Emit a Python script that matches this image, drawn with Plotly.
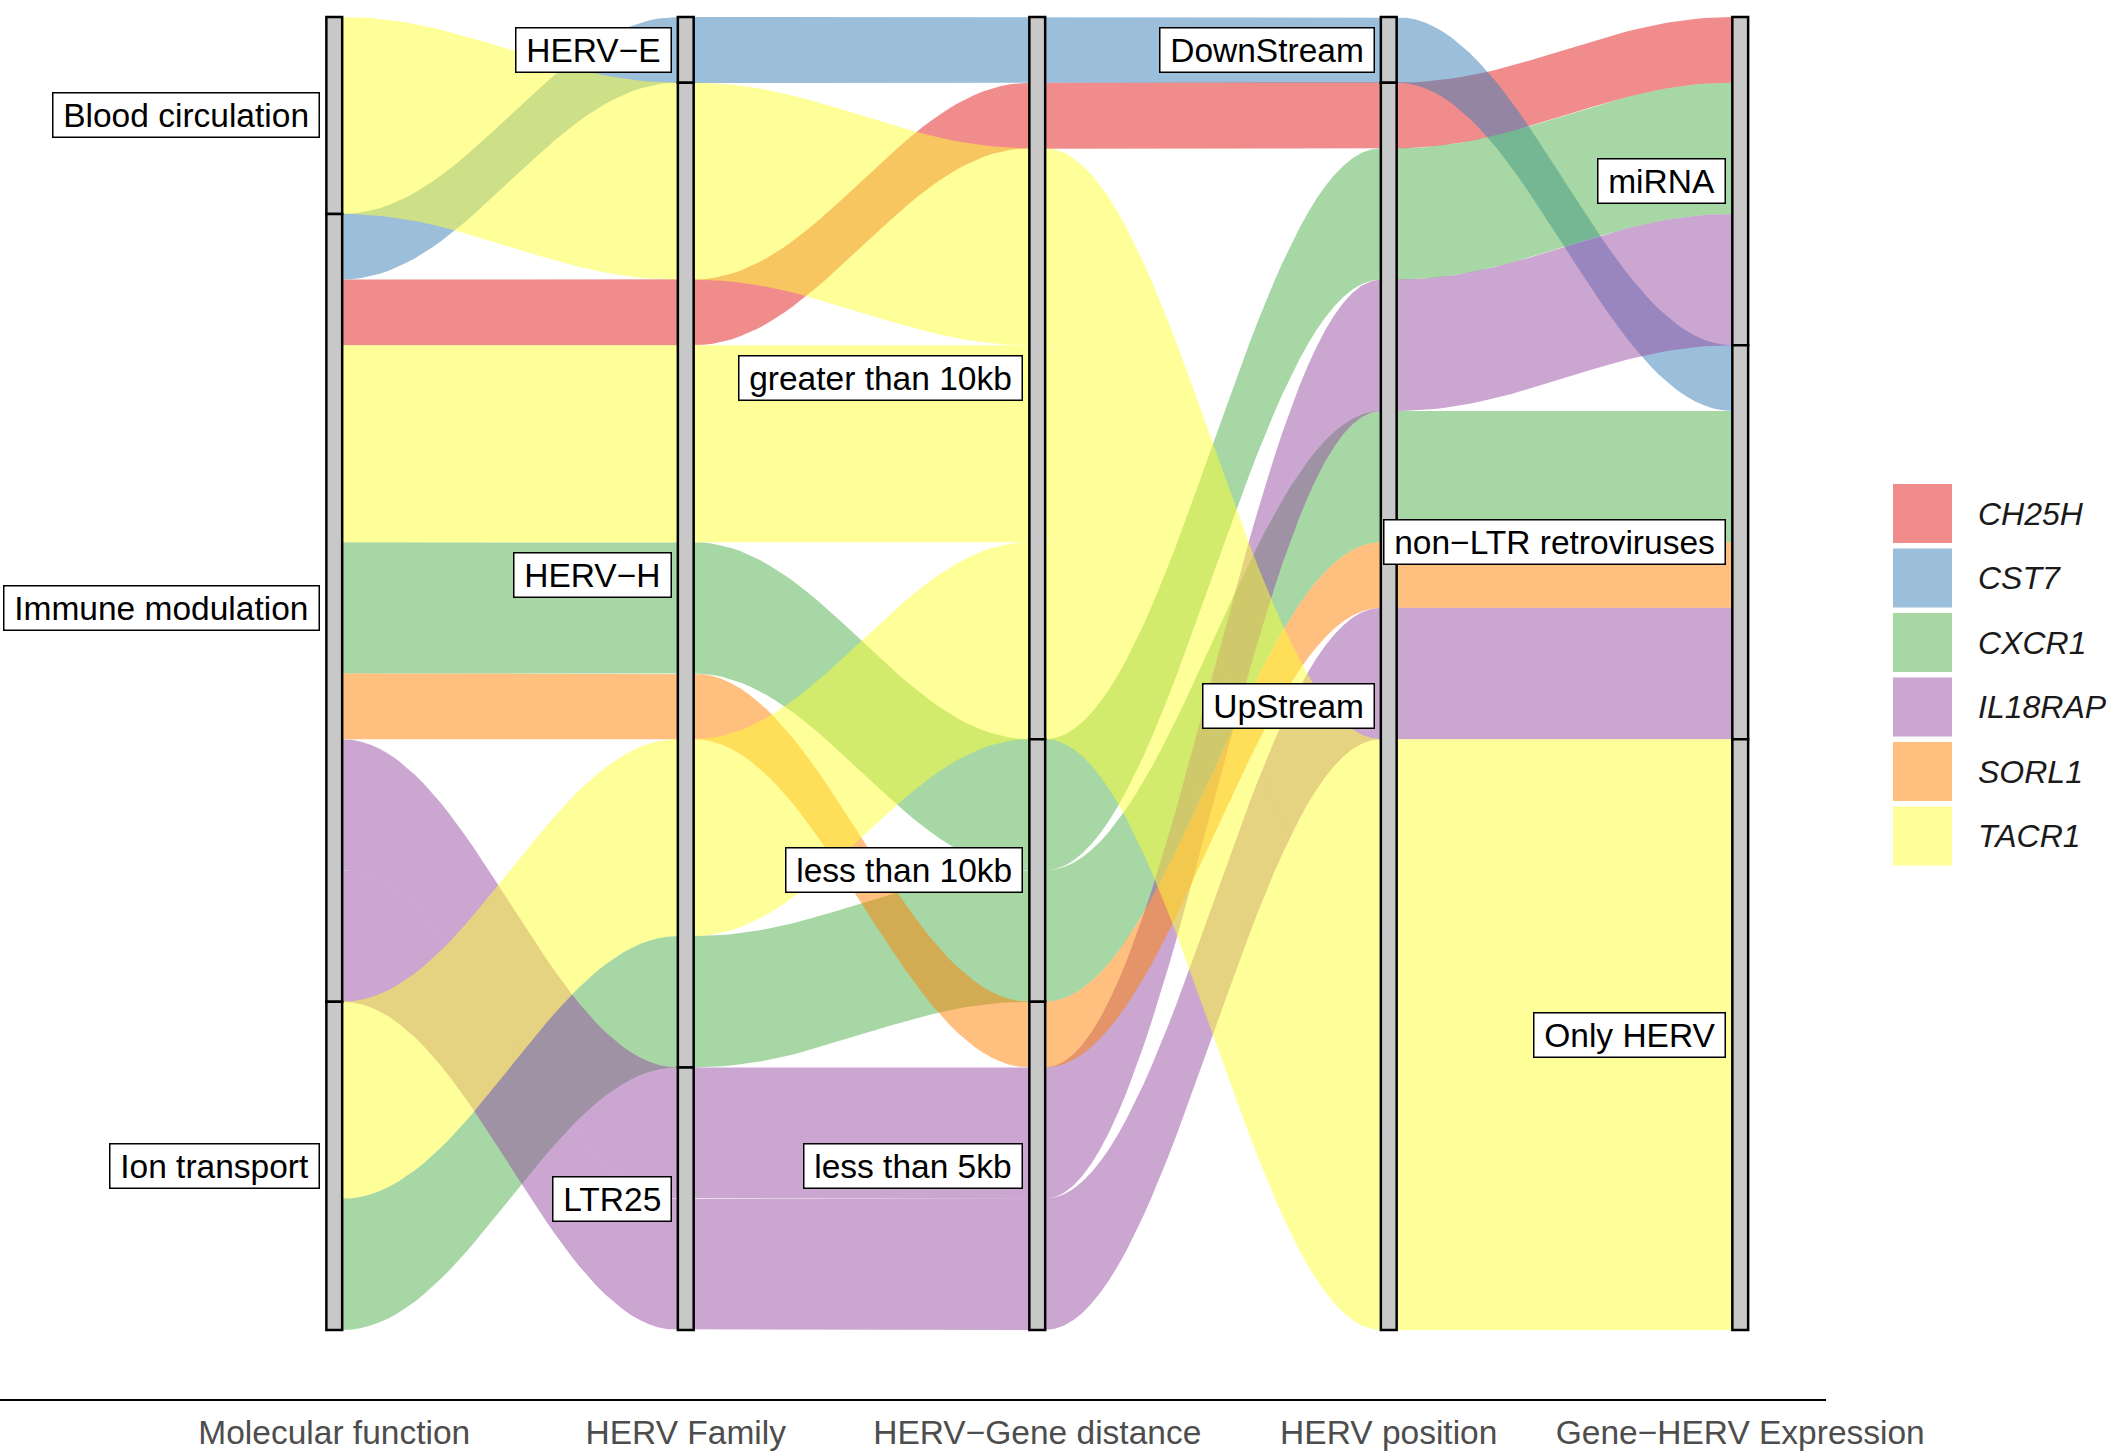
import numpy as np
import plotly.graph_objects as go

# axes (left to right) and the order of strata on each, top to bottom
axis_titles = ["Molecular function", "HERV Family", "HERV−Gene distance",
               "HERV position", "Gene−HERV Expression"]
mf_levels = ["Blood circulation", "Immune modulation", "Ion transport"]
family_levels = ["HERV−E", "HERV−H", "LTR25"]
distance_levels = ["greater than 10kb", "less than 10kb", "less than 5kb"]
position_levels = ["DownStream", "UpStream"]
expression_levels = ["miRNA", "non−LTR retroviruses", "Only HERV"]

# one entry per alluvium
gene = ["TACR1", "CST7", "CH25H", "TACR1", "CXCR1",
        "SORL1", "IL18RAP", "IL18RAP", "TACR1", "CXCR1"]
molecular_function = ["Blood circulation", "Immune modulation", "Immune modulation",
                      "Immune modulation", "Immune modulation", "Immune modulation",
                      "Immune modulation", "Immune modulation", "Ion transport", "Ion transport"]
herv_family = ["HERV−H", "HERV−E", "HERV−H", "HERV−H", "HERV−H",
               "HERV−H", "LTR25", "LTR25", "HERV−H", "HERV−H"]
herv_gene_distance = ["greater than 10kb", "greater than 10kb", "greater than 10kb",
                      "greater than 10kb", "less than 10kb", "less than 5kb",
                      "less than 5kb", "less than 5kb", "greater than 10kb", "less than 10kb"]
herv_position = ["UpStream", "DownStream", "UpStream", "UpStream", "UpStream",
                 "UpStream", "UpStream", "UpStream", "UpStream", "UpStream"]
gene_herv_expression = ["Only HERV", "non−LTR retroviruses", "miRNA", "Only HERV", "miRNA",
                        "non−LTR retroviruses", "miRNA", "non−LTR retroviruses",
                        "Only HERV", "non−LTR retroviruses"]
freq = [3, 1, 1, 3, 2, 1, 2, 2, 3, 2]

gene_levels = ["CH25H", "CST7", "CXCR1", "IL18RAP", "SORL1", "TACR1"]
# Set1 palette, alpha 0.5
gene_colors = {
    "CH25H": "rgba(228,26,28,0.5)",
    "CST7": "rgba(55,126,184,0.5)",
    "CXCR1": "rgba(77,175,74,0.5)",
    "IL18RAP": "rgba(152,78,163,0.5)",
    "SORL1": "rgba(255,127,0,0.5)",
    "TACR1": "rgba(255,255,51,0.5)",
}

columns = [molecular_function, herv_family, herv_gene_distance, herv_position, gene_herv_expression]
levels = [mf_levels, family_levels, distance_levels, position_levels, expression_levels]
n_axes = len(columns)
n_all = len(gene)
total = sum(freq)
W = 0.045      # stratum width (x units)
KNOT = 0.375   # bezier handle length as a fraction of the gap


def lode_zigzag(n, i):
    # same idea as ggalluvial: sort by nearby axes first
    r1, r2 = i - 1, n - i
    r = min(r1, r2)
    leftward = i <= n / 2
    sgn = 0 if r1 == r2 else (1 if r2 > r1 else -1)
    zz = [-1, 1] if leftward else [1, -1]
    out = [i]
    for j in range(1, r + 1):
        out += [i + j * zz[0], i + j * zz[1]]
    if sgn != 0:
        start = i + sgn * (r + 1)
        end = int((n + 1) / 2 + sgn * (n - 1) / 2)
        step = 1 if end >= start else -1
        out += list(range(start, end + step, step))
    return out


codes = [[levels[k].index(columns[k][a]) for a in range(n_all)] for k in range(n_axes)]

# lode positions (top / bottom) of each alluvium on each axis
tops = np.zeros((n_all, n_axes))
bots = np.zeros((n_all, n_axes))
for k in range(n_axes):
    order = [j - 1 for j in lode_zigzag(n_axes, k + 1)]
    idx = sorted(range(n_all), key=lambda a: tuple(codes[o][a] for o in order))
    y = total
    for a in idx:
        tops[a, k] = y
        bots[a, k] = y - freq[a]
        y -= freq[a]

t = np.linspace(0, 1, 40)


def edge(vals):
    xs, ys = [], []
    for k in range(n_axes):
        xa = k + 1
        xs += [xa - W / 2, xa + W / 2]
        ys += [vals[k], vals[k]]
        if k < n_axes - 1:
            x0, x1 = xa + W / 2, xa + 1 - W / 2
            h = KNOT * (x1 - x0)
            bx = (1 - t) ** 3 * x0 + 3 * (1 - t) ** 2 * t * (x0 + h) + 3 * (1 - t) * t ** 2 * (x1 - h) + t ** 3 * x1
            by = vals[k] + (vals[k + 1] - vals[k]) * (3 * t ** 2 - 2 * t ** 3)
            xs += list(bx[1:-1])
            ys += list(by[1:-1])
    return xs, ys


fig = go.Figure()

# alluvia, drawn in gene order (later genes on top)
draw_order = sorted(range(n_all), key=lambda a: gene_levels.index(gene[a]))
for a in draw_order:
    xt, yt = edge(tops[a])
    xb, yb = edge(bots[a])
    fig.add_trace(go.Scatter(
        x=xt + xb[::-1], y=yt + yb[::-1],
        mode="lines", fill="toself",
        fillcolor=gene_colors[gene[a]],
        line=dict(width=0),
        hoverinfo="skip", showlegend=False,
    ))

# strata boxes + labels
shapes = []
annotations = []
for k in range(n_axes):
    y = total
    for lev in levels[k]:
        h = sum(f for f, c in zip(freq, columns[k]) if c == lev)
        if h == 0:
            continue
        shapes.append(dict(type="rect", xref="x", yref="y",
                           x0=k + 1 - W / 2, x1=k + 1 + W / 2, y0=y - h, y1=y,
                           fillcolor="#C8C8C8", line=dict(color="black", width=2.5),
                           layer="above"))
        annotations.append(dict(x=k + 1 - W / 2, y=y - h / 2, xref="x", yref="y",
                                text="\u2009" + lev + "\u2009", showarrow=False,
                                xanchor="right", yanchor="middle", xshift=-6,
                                font=dict(family="Liberation Sans", size=33.5, color="black"),
                                bgcolor="white", bordercolor="black", borderwidth=1.5,
                                borderpad=3))
        y -= h

# legend drawn by hand (big keys)
PLOT_W, PLOT_H = 1826, 1399


def px_x(p):
    return p / PLOT_W


def px_y(p):
    return (PLOT_H - p) / PLOT_H


for i, g in enumerate(gene_levels):
    top = 484 + i * 64.5
    shapes.append(dict(type="rect", xref="paper", yref="paper",
                       x0=px_x(1893), x1=px_x(1952), y0=px_y(top + 59), y1=px_y(top),
                       fillcolor=gene_colors[g], line=dict(width=0)))
    annotations.append(dict(x=px_x(1976), y=px_y(top + 29.5), xref="paper", yref="paper",
                            text="<i>" + g + "</i>", showarrow=False,
                            xanchor="left", yanchor="middle",
                            font=dict(family="Liberation Sans", size=32, color="#1a1a1a")))

fig.update_layout(
    width=2118, height=1456,
    margin=dict(l=0, r=2118 - PLOT_W, t=0, b=1456 - PLOT_H),
    paper_bgcolor="white", plot_bgcolor="white",
    shapes=shapes, annotations=annotations,
    showlegend=False,
    xaxis=dict(range=[0.049, 5.244], tickvals=list(range(1, n_axes + 1)), ticktext=axis_titles,
               tickfont=dict(family="Liberation Sans", size=33.5, color="#4D4D4D"),
               ticks="", ticklabelstandoff=3,
               showline=True, linecolor="black", linewidth=1.5,
               showgrid=False, zeroline=False, automargin=False, fixedrange=True),
    yaxis=dict(range=[-1.051, 20.259], visible=False, showgrid=False, zeroline=False,
               fixedrange=True),
)

fig.write_html("out.html", config={"displayModeBar": False},
               post_script="document.body.style.margin='0px';document.body.style.overflow='hidden';")
